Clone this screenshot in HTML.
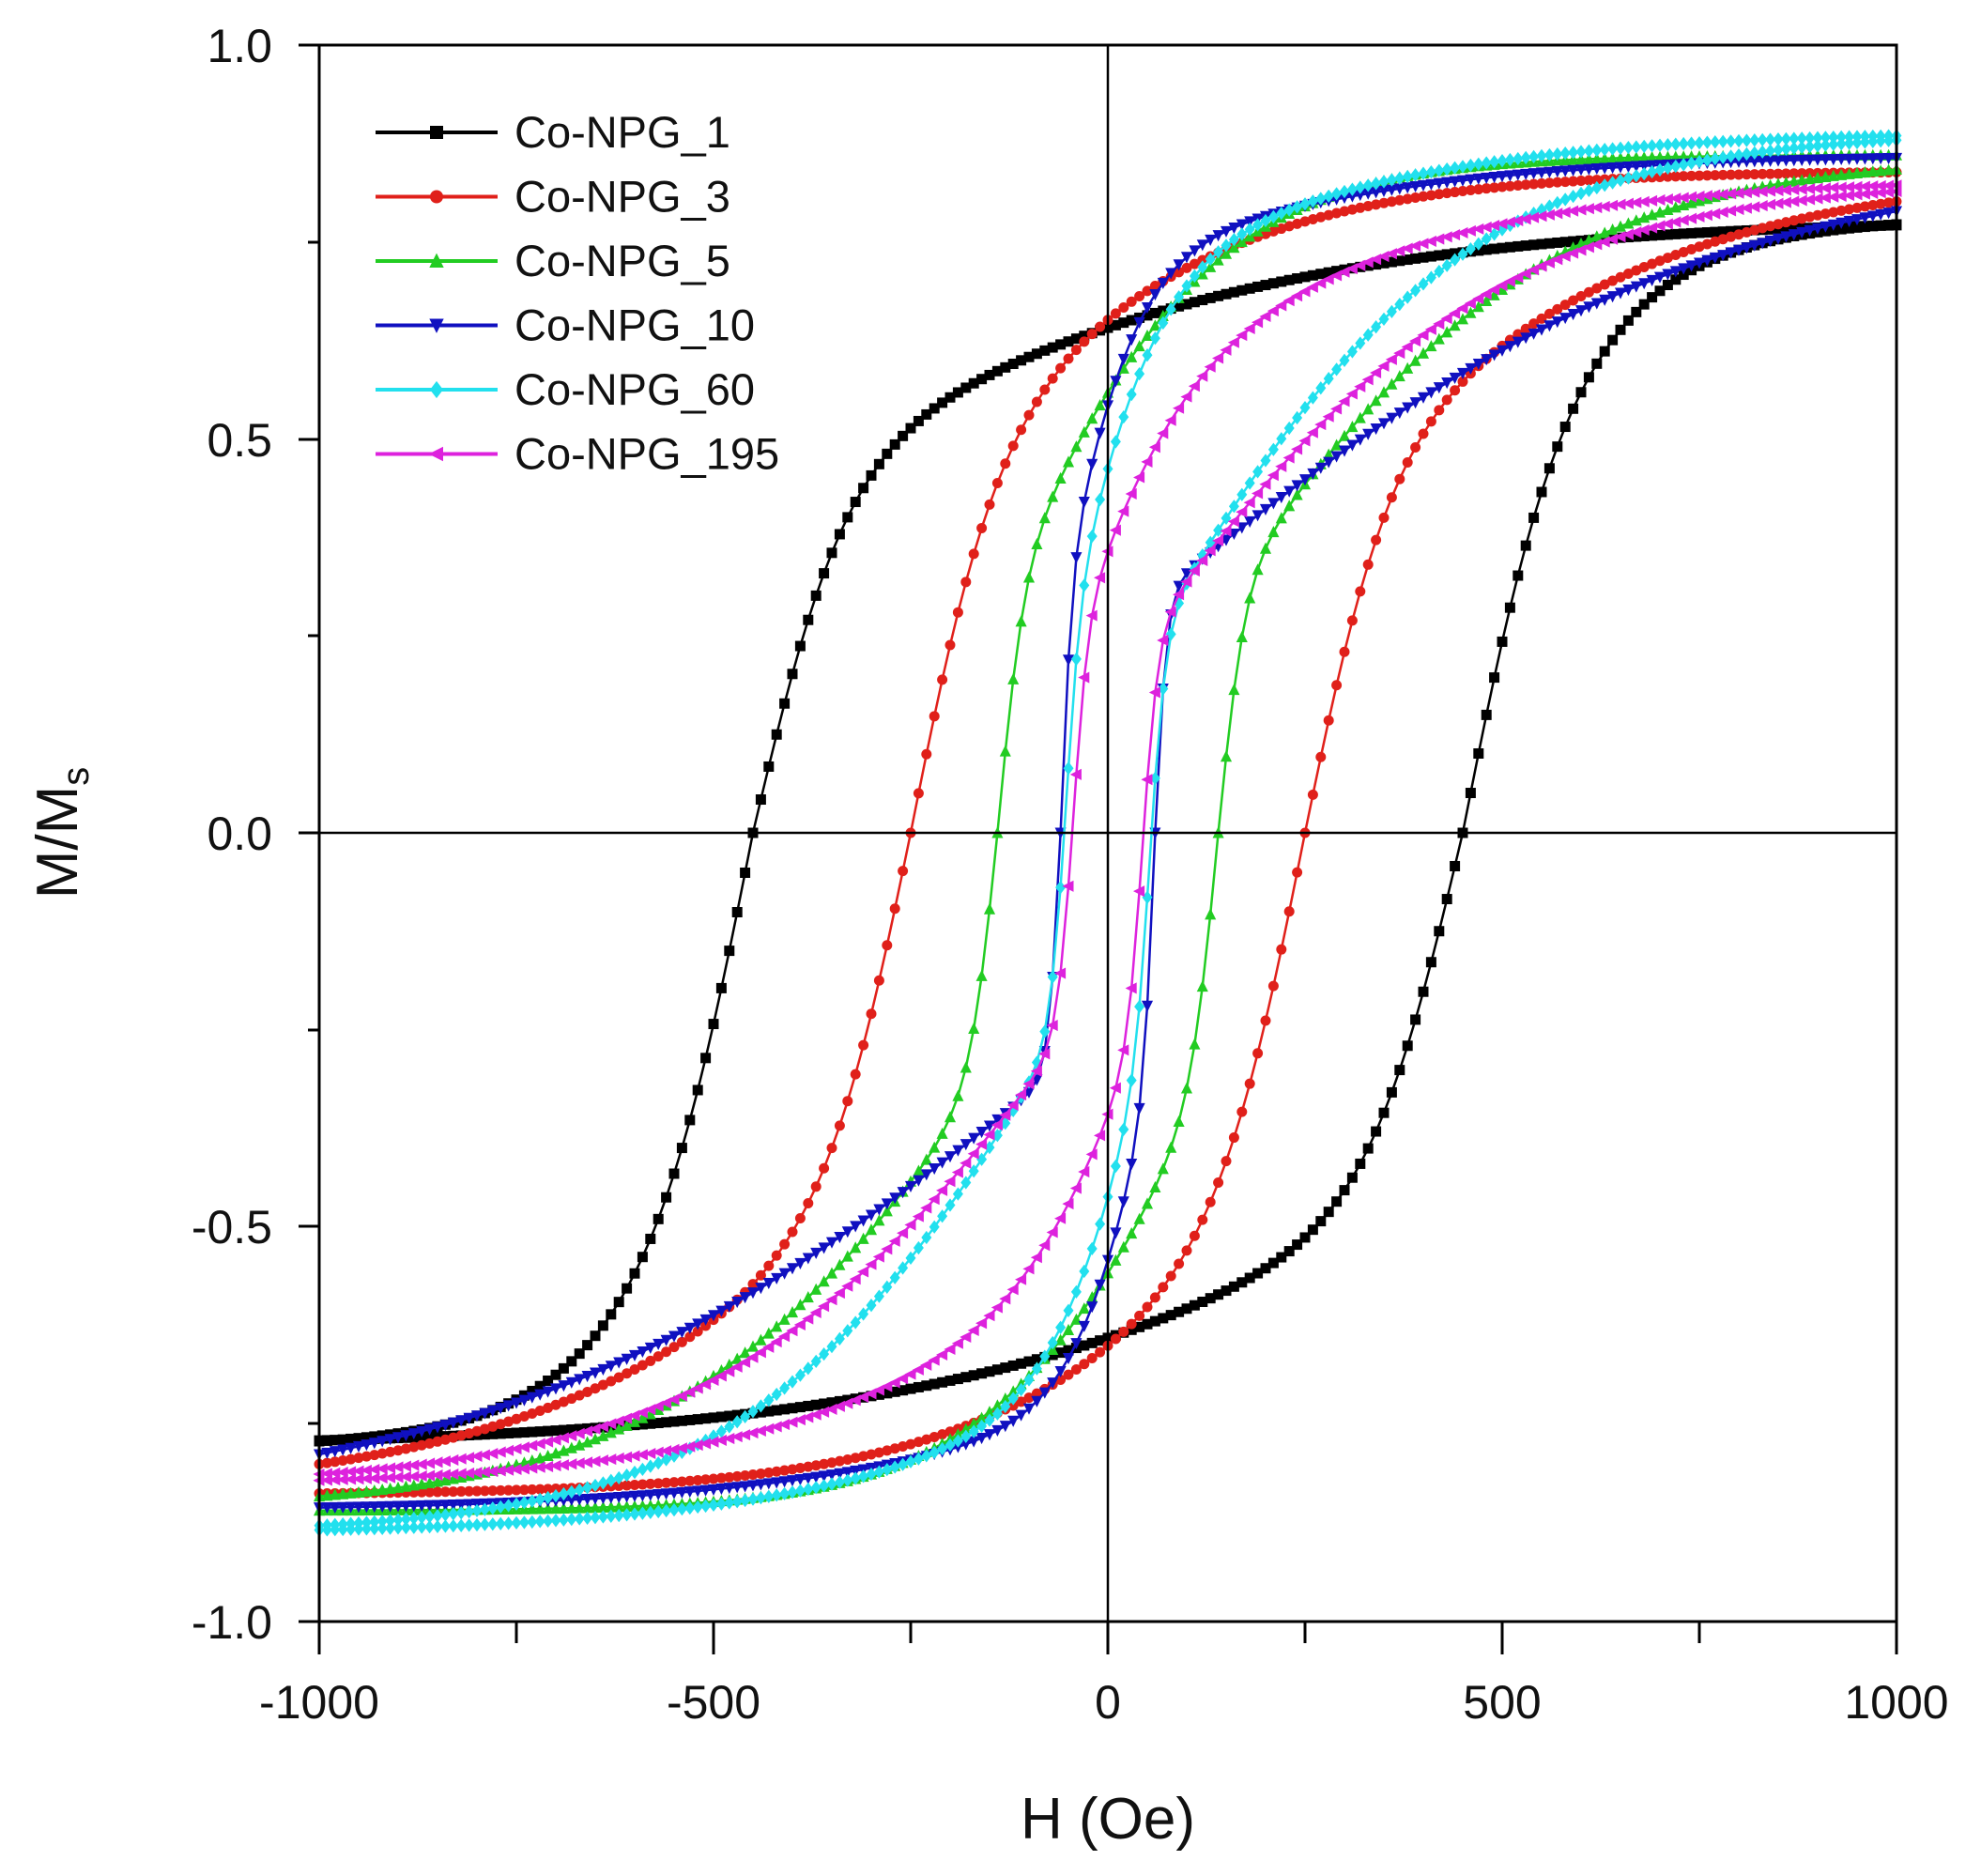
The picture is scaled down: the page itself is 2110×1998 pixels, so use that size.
<!DOCTYPE html>
<html><head><meta charset="utf-8"><style>
html,body{margin:0;padding:0;background:#fff;}
svg{display:block;font-family:"Liberation Sans",sans-serif;}
</style></head><body>
<svg id="s" width="2110" height="1998" viewBox="0 0 2110 1998" xmlns="http://www.w3.org/2000/svg">
<rect width="2110" height="1998" fill="#fff"/>
<g id="curves"></g>
<g stroke="#000" fill="none">
<rect x="340" y="48" width="1680" height="1679" stroke-width="3"/>
<line x1="1180" y1="48" x2="1180" y2="1727" stroke-width="2.5"/>
<line x1="340" y1="887" x2="2020" y2="887" stroke-width="2.5"/>
<g stroke-width="3">
<line x1="340" y1="1727" x2="340" y2="1762"/><line x1="550" y1="1727" x2="550" y2="1750"/>
<line x1="760" y1="1727" x2="760" y2="1762"/><line x1="970" y1="1727" x2="970" y2="1750"/>
<line x1="1180" y1="1727" x2="1180" y2="1762"/><line x1="1390" y1="1727" x2="1390" y2="1750"/>
<line x1="1600" y1="1727" x2="1600" y2="1762"/><line x1="1810" y1="1727" x2="1810" y2="1750"/>
<line x1="2020" y1="1727" x2="2020" y2="1762"/>
<line x1="318" y1="48" x2="340" y2="48"/><line x1="328" y1="258" x2="340" y2="258"/>
<line x1="318" y1="468" x2="340" y2="468"/><line x1="328" y1="677" x2="340" y2="677"/>
<line x1="318" y1="887" x2="340" y2="887"/><line x1="328" y1="1097" x2="340" y2="1097"/>
<line x1="318" y1="1306" x2="340" y2="1306"/><line x1="328" y1="1516" x2="340" y2="1516"/>
<line x1="318" y1="1727" x2="340" y2="1727"/>
</g></g>
<g font-size="50" fill="#111" text-anchor="end">
<text x="290" y="66">1.0</text><text x="290" y="486">0.5</text><text x="290" y="905">0.0</text>
<text x="290" y="1324">-0.5</text><text x="290" y="1745">-1.0</text>
</g>
<g font-size="50" fill="#111" text-anchor="middle">
<text x="340" y="1830">-1000</text><text x="760" y="1830">-500</text><text x="1180" y="1830">0</text>
<text x="1600" y="1830">500</text><text x="2020" y="1830">1000</text>
</g>
<text x="1180" y="1958" font-size="62" text-anchor="middle" fill="#111">H (Oe)</text>
<text transform="translate(82,887) rotate(-90)" font-size="62" text-anchor="middle" fill="#111">M/M<tspan font-size="40" dy="12">s</tspan></text>
<g id="legend" font-size="47" fill="#111"></g>
</svg>
<script>
var NS="http://www.w3.org/2000/svg";
function X(h){return 1180+h*0.84;}
function Y(m){return 887-m*839.5;}
function th(x){return Math.tanh(x);}
var S=[
 {c:"#000000",m:"sq",hc:450,a:0.45,w1:120,b:0.33,wp:680,c2:0,wc:500,wn:250,n:"Co-NPG_1"},
 {c:"#e0201a",m:"ci",hc:250,a:0.45,w1:110,b:0.39,wp:415,c2:0,wc:500,wn:510,n:"Co-NPG_3"},
 {c:"#22cc22",m:"up",hc:140,a:0.30,w1:35,b:0.56,wp:280,c2:0,wc:500,wn:420,n:"Co-NPG_5"},
 {c:"#1010c0",m:"dn",hc:60,a:0.30,w1:15,b:0.42,wp:100,c2:0.14,wc:500,wn:700,n:"Co-NPG_10"},
 {c:"#22e0ee",m:"di",hc:55,a:0.25,w1:20,b:0.45,wp:120,c2:0.19,wc:500,wn:400,n:"Co-NPG_60"},
 {c:"#dd22dd",m:"lt",hc:45,a:0.25,w1:20,b:0.30,wp:150,c2:0.28,wc:500,wn:450,n:"Co-NPG_195"}
];
function g(s,x){
 if(x>0) return s.a*th(x/s.w1)+s.b*th(x/s.wp)+s.c2*th(x/s.wc);
 return s.a*th(x/s.w1)+(s.b+s.c2)*th(x/s.wn);
}
function marker(s,x,y,r){
 var e;
 if(s.m=="sq"){e=document.createElementNS(NS,"rect");e.setAttribute("x",x-r);e.setAttribute("y",y-r);e.setAttribute("width",2*r);e.setAttribute("height",2*r);}
 else if(s.m=="ci"){e=document.createElementNS(NS,"circle");e.setAttribute("cx",x);e.setAttribute("cy",y);e.setAttribute("r",r);}
 else{var p;
  if(s.m=="up")p=[[x,y-r*1.2],[x+r*1.1,y+r],[x-r*1.1,y+r]];
  else if(s.m=="dn")p=[[x,y+r*1.2],[x+r*1.1,y-r],[x-r*1.1,y-r]];
  else if(s.m=="di")p=[[x,y-r*1.3],[x+r,y],[x,y+r*1.3],[x-r,y]];
  else p=[[x-r*1.2,y],[x+r,y-r*1.1],[x+r,y+r*1.1]];
  e=document.createElementNS(NS,"polygon");e.setAttribute("points",p.map(function(q){return q.join(",")}).join(" "));}
 e.setAttribute("fill",s.c);return e;
}
var G=document.getElementById("curves");
S.forEach(function(s){
 var up=[],lo=[];
 for(var h=-1000;h<=1000;h+=10){up.push([X(h),Y(g(s,h+s.hc))]);lo.push([X(h),Y(-g(s,-h+s.hc))]);}
 [up,lo].forEach(function(pts){
  var pl=document.createElementNS(NS,"polyline");
  pl.setAttribute("points",pts.map(function(q){return q[0].toFixed(1)+","+q[1].toFixed(1)}).join(" "));
  pl.setAttribute("fill","none");pl.setAttribute("stroke",s.c);pl.setAttribute("stroke-width","2.5");
  G.appendChild(pl);
  pts.forEach(function(q){G.appendChild(marker(s,q[0],q[1],5.5));});
 });
});
var L=document.getElementById("legend");
S.forEach(function(s,i){
 var y=141+i*68.5;
 var ln=document.createElementNS(NS,"line");
 ln.setAttribute("x1",400);ln.setAttribute("x2",530);ln.setAttribute("y1",y);ln.setAttribute("y2",y);
 ln.setAttribute("stroke",s.c);ln.setAttribute("stroke-width",4);L.appendChild(ln);
 L.appendChild(marker(s,465,y,7));
 var t=document.createElementNS(NS,"text");t.setAttribute("x",548);t.setAttribute("y",y+16);t.textContent=s.n;L.appendChild(t);
});
</script>
</body></html>
